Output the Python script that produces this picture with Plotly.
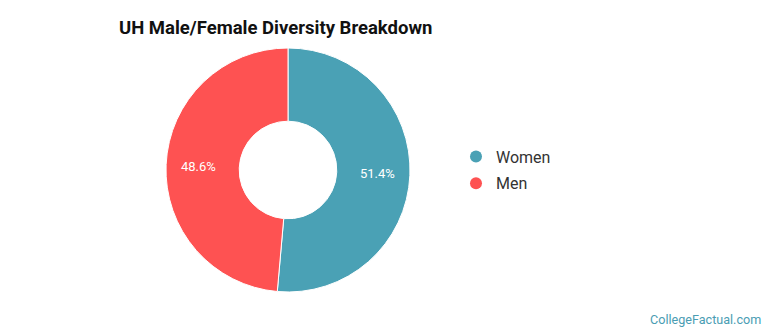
import math
import plotly.graph_objects as go

labels = ["Women", "Men"]
values = [51.4, 48.6]
colors = ["#4aa1b5", "#fe5252"]
title = "UH Male/Female Diversity Breakdown"
credit = "CollegeFactual.com"

W, H = 770, 335
CX, CY, R = 288, 170, 122
fig = go.Figure()
fig.add_trace(go.Pie(
    labels=labels, values=values, sort=False, direction="clockwise", rotation=0,
    hole=0.40, marker=dict(colors=colors, line=dict(color="white", width=1)),
    textinfo="none", showlegend=False, hoverinfo="label+percent",
    domain=dict(x=[(CX - R) / W, (CX + R) / W], y=[1 - (CY + R) / H, 1 - (CY - R) / H]),
))
for lab, col in zip(labels, colors):
    fig.add_trace(go.Scatter(x=[None], y=[None], mode="markers", name=lab, legendgroup=lab,
                             marker=dict(symbol="circle", size=15, color=col)))

# slice labels placed at the mid-angle of each slice
annotations = []
total = sum(values)
cum = 0.0
for v in values:
    mid = (cum + v / 2) / total * 2 * math.pi
    cum += v
    r = 90
    px = CX + r * math.sin(mid)
    py = CY - r * math.cos(mid)
    annotations.append(dict(text=f"{v}%", x=px / W, y=1 - py / H, xref="paper", yref="paper",
                            xanchor="center", yanchor="middle", showarrow=False,
                            font=dict(size=13, color="white", family="Roboto")))
annotations.append(dict(text=credit, x=1 - 7 / W, y=0 + 6 / H, xref="paper", yref="paper",
                        xanchor="right", yanchor="bottom", showarrow=False,
                        font=dict(size=12.6, color="#4a9db3", family="Roboto")))

fig.update_layout(
    width=W, height=H, margin=dict(l=0, r=0, t=0, b=0),
    paper_bgcolor="white", plot_bgcolor="white",
    xaxis=dict(visible=False), yaxis=dict(visible=False),
    font=dict(family="Roboto", color="#333333"),
    title=dict(text="<b>" + title + "</b>", x=119 / W, xanchor="left",
               y=1 - 28 / H, yanchor="middle",
               font=dict(size=18.5, color="#111111", family="Roboto")),
    legend=dict(x=456 / W, xanchor="left", y=1 - 170 / H, yanchor="middle",
                font=dict(size=16, color="#333333", family="Roboto"),
                itemsizing="constant", bgcolor="rgba(0,0,0,0)", tracegroupgap=3),
    annotations=annotations,
)
fig.write_html("out.html")
